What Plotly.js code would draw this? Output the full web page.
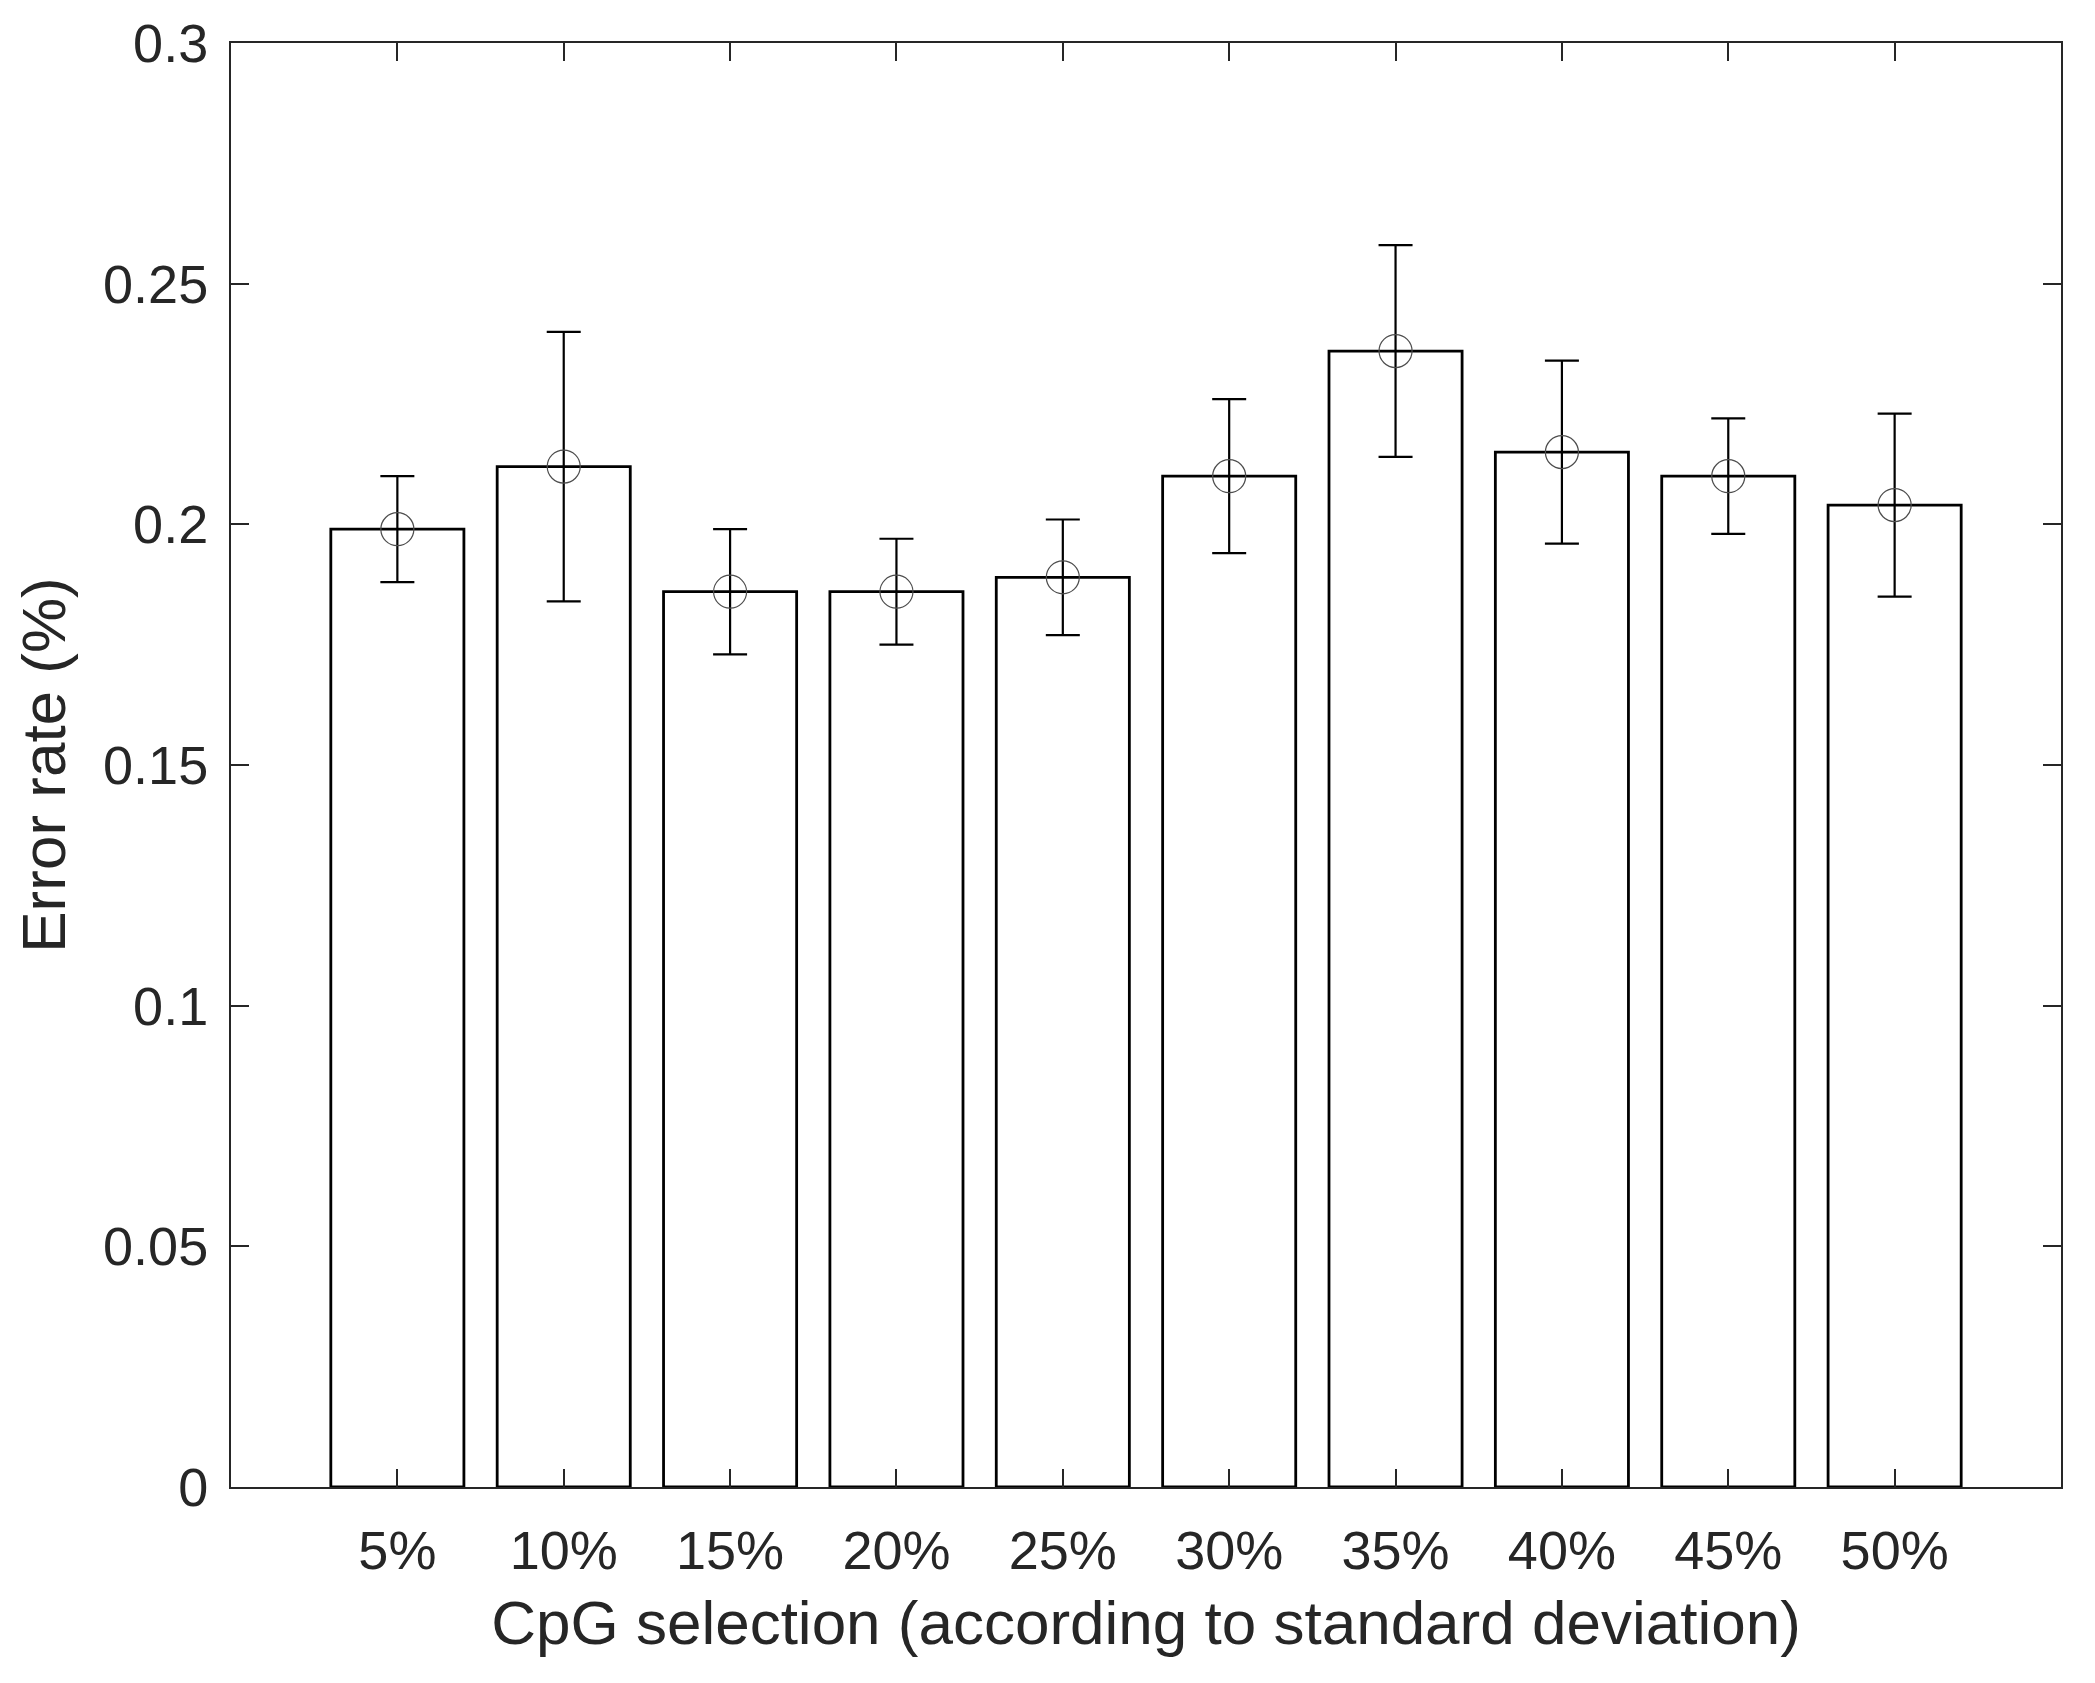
<!DOCTYPE html>
<html>
<head>
<meta charset="utf-8">
<script src="https://cdn.plot.ly/plotly-3.0.1.min.js"></script>
<style>html,body{margin:0;padding:0;background:#fff;}#chart{width:2095px;height:1683px;}</style>
</head>
<body>
<div id="chart"></div>
<script>
const categories = ["5%", "10%", "15%", "20%", "25%", "30%", "35%", "40%", "45%", "50%"];
const meanError = [0.199, 0.212, 0.186, 0.186, 0.189, 0.210, 0.236, 0.215, 0.210, 0.204];
const upperError = [0.210, 0.240, 0.199, 0.197, 0.201, 0.226, 0.258, 0.234, 0.222, 0.223];
const lowerError = [0.188, 0.184, 0.173, 0.175, 0.177, 0.194, 0.214, 0.196, 0.198, 0.185];
const yTickVals = [0, 0.05, 0.1, 0.15, 0.2, 0.25, 0.3];
const yTickText = ["0", "0.05", "0.1", "0.15", "0.2", "0.25", "0.3"];

const plus = upperError.map((u, i) => u - meanError[i]);
const minus = lowerError.map((l, i) => meanError[i] - l);

const font = "Liberation Sans, Arial, Helvetica, sans-serif";
const ink = "#262626";

const bars = {
  type: "bar",
  x: categories,
  y: meanError,
  width: 0.8,
  marker: { color: "#ffffff", line: { color: "#000000", width: 2.8 } },
  hoverinfo: "skip",
  showlegend: false
};

const points = {
  type: "scatter",
  mode: "markers",
  x: categories,
  y: meanError,
  marker: { symbol: "circle-open", size: 33, color: "#4d4d4d", line: { width: 1.2, color: "#4d4d4d" } },
  error_y: { type: "data", symmetric: false, array: plus, arrayminus: minus, color: "#000000", thickness: 2.2, width: 17 },
  showlegend: false
};

const layout = {
  width: 2095,
  height: 1683,
  margin: { l: 231, r: 34, t: 43, b: 196, pad: 0 },
  paper_bgcolor: "#ffffff",
  plot_bgcolor: "#ffffff",
  font: { family: font, color: ink, size: 54 },
  showlegend: false,
  bargap: 0.2,
  xaxis: {
    type: "category",
    range: [-1, 10],
    showline: true, linecolor: ink, linewidth: 2, mirror: "ticks",
    ticks: "inside", ticklen: 18, tickwidth: 2, tickcolor: ink,
    showgrid: false, zeroline: false,
    tickfont: { family: font, size: 54, color: ink },
    ticklabelstandoff: 15,
    title: { text: "CpG selection (according to standard deviation)", font: { family: font, size: 62, color: ink }, standoff: 22 }
  },
  yaxis: {
    range: [0, 0.3],
    tickvals: yTickVals, ticktext: yTickText,
    showline: true, linecolor: ink, linewidth: 2, mirror: "ticks",
    ticks: "inside", ticklen: 18, tickwidth: 2, tickcolor: ink,
    showgrid: false, zeroline: false,
    tickfont: { family: font, size: 54, color: ink },
    ticklabelstandoff: 10,
    title: { text: "Error rate (%)", font: { family: font, size: 62, color: ink }, standoff: 17 }
  }
};

Plotly.newPlot("chart", [bars, points], layout, { displayModeBar: false, staticPlot: true });
</script>
</body>
</html>
